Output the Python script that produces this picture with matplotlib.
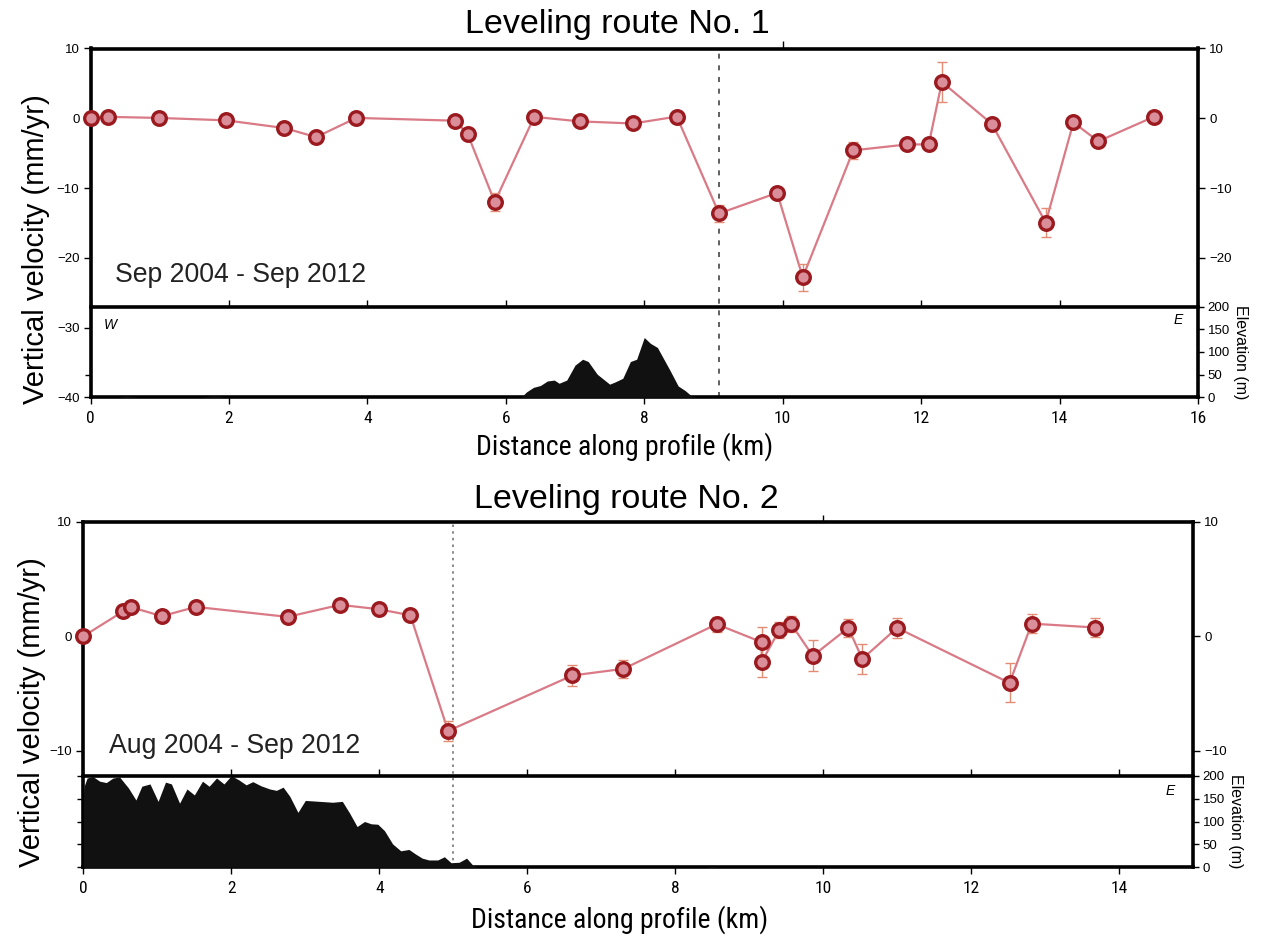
import matplotlib
matplotlib.use("Agg")
import matplotlib.pyplot as plt
from matplotlib import font_manager as fm


def pick(*names):
    avail = {f.name for f in fm.fontManager.ttflist}
    for n in names:
        if n in avail:
            return n
    return "DejaVu Sans"


SANS = pick("Liberation Sans", "Arial", "DejaVu Sans")
NARROW = pick("Liberation Sans Narrow", "Roboto Condensed", SANS)

# ---------------- Route 1 ----------------
r1_km = [0, 0.25, 0.985, 1.96, 2.80, 3.26, 3.84, 5.27, 5.45, 5.84, 6.41, 7.07,
         7.84, 8.47, 9.08, 9.92, 10.29, 11.02, 11.80, 12.11, 12.30, 13.02,
         13.80, 14.20, 14.56, 15.36]
r1_vel = [0, 0.2, 0.05, -0.3, -1.4, -2.7, 0.05, -0.35, -2.3, -12.0, 0.2, -0.45,
          -0.75, 0.24, -13.65, -10.7, -22.8, -4.6, -3.75, -3.75, 5.2, -0.8,
          -14.95, -0.6, -3.3, 0.2]
r1_err = [0, 0.3, 0.3, 0.3, 0.3, 0.3, 0.3, 0.3, 0.3, 1.3, 0.3, 0.3,
          0.3, 0.3, 1.2, 0.3, 1.9, 1.2, 0.3, 0.3, 2.8, 0.3,
          2.1, 0.3, 0.3, 0.3]

r1_elev_km = [0, 0.4, 0.5, 0.6, 0.7, 1.6, 1.75, 1.85, 1.95, 6.22, 6.30, 6.40,
              6.50, 6.60, 6.70, 6.77, 6.88, 7.00, 7.11, 7.19, 7.32, 7.50, 7.58,
              7.69, 7.80, 7.89, 8.00, 8.09, 8.19, 8.37, 8.49, 8.59, 8.69, 8.75, 16]
r1_elev_m = [0, 0, 3, 2, 0, 0, 3, 3, 0, 0, 12, 22,
             26, 36, 38, 31, 38, 71, 84, 79, 51, 29, 34,
             42, 79, 84, 132, 119, 110, 60, 25, 15, 2, 0, 0]
r1_fault_km = 9.08
r1_period = "Sep 2004 - Sep 2012"
r1_title = "Leveling route No. 1"

# ---------------- Route 2 ----------------
r2_km = [0, 0.54, 0.65, 1.06, 1.52, 2.76, 3.47, 3.99, 4.42, 4.93, 6.61, 7.30,
         8.56, 9.17, 9.17, 9.41, 9.57, 9.86, 10.34, 10.53, 11.00, 12.52, 12.82, 13.68]
r2_vel = [0, 2.18, 2.53, 1.75, 2.56, 1.69, 2.74, 2.36, 1.83, -8.27, -3.43, -2.85,
          1.05, -0.52, -2.24, 0.58, 1.05, -1.72, 0.73, -1.98, 0.73, -4.08, 1.1, 0.76]
r2_err = [0, 0.2, 0.2, 0.2, 0.2, 0.2, 0.2, 0.2, 0.2, 0.85, 0.95, 0.8,
          0.65, 1.3, 1.3, 0.7, 0.7, 1.35, 0.8, 1.3, 0.85, 1.7, 0.8, 0.85]

r2_elev_km = [0, 0.01, 0.05, 0.13, 0.22, 0.31, 0.40, 0.49, 0.61, 0.71, 0.79, 0.90,
              1.01, 1.11, 1.19, 1.30, 1.40, 1.50, 1.61, 1.70, 1.80, 1.90, 2.00,
              2.10, 2.20, 2.29, 2.40, 2.52, 2.61, 2.70, 2.79, 2.90, 3.00, 3.19,
              3.37, 3.50, 3.60, 3.70, 3.80, 3.89, 3.98, 4.07, 4.18, 4.29, 4.40,
              4.49, 4.58, 4.67, 4.79, 4.88, 4.97, 5.08, 5.18, 5.27, 5.33, 8.4,
              8.5, 8.6, 15]
r2_elev_m = [160, 177, 195, 198, 188, 185, 195, 197, 173, 147, 177, 182,
             144, 186, 182, 140, 171, 158, 188, 177, 195, 182, 200,
             191, 180, 187, 178, 171, 168, 175, 155, 120, 146, 144,
             142, 144, 118, 89, 100, 95, 94, 80, 51, 36, 39,
             29, 20, 16, 16, 23, 10, 11, 20, 3.5, 0, 0,
             2, 0, 0]
r2_fault_km = 5.0
r2_period = "Aug 2004 - Sep 2012"
r2_title = "Leveling route No. 2"

# ---------------- styling ----------------
LINE_C = "#d97a86"
FACE_C = "#d98e99"
EDGE_C = "#9b1a1f"
ERR_C = "#e38c74"
SPINE_W = 2.6

W, H = 1264, 939
fig = plt.figure(figsize=(W / 100, H / 100), dpi=100)


def px_rect(left, right, top, bottom):
    return [left / W, 1 - bottom / H, (right - left) / W, (bottom - top) / H]


def route_panel(left, right, top, divider, bottom, xmax, ylo, vel_left_ticks,
                vel_right_ticks, km, vel, err, ekm, em, fault, fault_dash,
                fault_color, period, period_xy, elev_left_ticks, w_label, e_xy):
    ax = fig.add_axes(px_rect(left, right, top, bottom))
    ax.set_xlim(0, xmax)
    ax.set_ylim(ylo, 10)
    ax.axvline(fault, color=fault_color, lw=1.2, dashes=fault_dash, zorder=1)
    ax.plot(km, vel, color=LINE_C, lw=1.6, zorder=2)
    ax.errorbar(km, vel, yerr=err, fmt="none", ecolor=ERR_C, elinewidth=1.0,
                capsize=3.5, capthick=1.0, zorder=3)
    ax.plot(km, vel, "o", ms=9.8, mfc=FACE_C, mec=EDGE_C, mew=2.4, zorder=4,
            clip_on=False)
    ax.text(period_xy[0], period_xy[1], period, fontsize=19.2, family=SANS,
            va="baseline", ha="left", color="#222222")
    for s in ax.spines.values():
        s.set_linewidth(SPINE_W)
    ax.set_xticks(range(0, int(xmax) + 1, 2))
    ax.set_yticks(vel_left_ticks)
    ax.tick_params(axis="x", direction="out", length=5, width=1, pad=5,
                   labelsize=12.5)
    ax.tick_params(axis="y", direction="out", length=5, width=1, pad=3,
                   labelsize=9.5)
    for t in ax.get_xticklabels():
        t.set_family(NARROW)
    for t in ax.get_yticklabels():
        t.set_family(SANS)
    top_ax = ax.secondary_xaxis("top")
    top_ax.set_xticks([10])
    top_ax.tick_params(direction="out", length=5, width=1, labeltop=False)
    top_ax.spines["top"].set_visible(False)

    axr = ax.twinx()
    axr.set_ylim(ylo, 10)
    axr.set_yticks(vel_right_ticks)
    axr.tick_params(axis="y", direction="out", length=5, width=1, pad=3,
                    labelsize=9.5)
    for t in axr.get_yticklabels():
        t.set_family(SANS)
    for s in axr.spines.values():
        s.set_visible(False)

    # elevation strip: filled profile with unlabeled left ticks
    axe = fig.add_axes(px_rect(left, right, divider, bottom))
    axe.patch.set_alpha(0)
    axe.set_xlim(0, xmax)
    axe.set_ylim(0, 200)
    axe.fill_between(ekm, 0, em, color="#111111", lw=0, zorder=2)
    for k, s in axe.spines.items():
        s.set_visible(k == "top")
    axe.spines["top"].set_linewidth(SPINE_W)
    axe.set_xticks(range(0, int(xmax) + 1, 2))
    axe.tick_params(axis="x", bottom=False, top=True, labelbottom=False,
                    direction="out", length=5, width=1)
    axe.set_yticks(elev_left_ticks)
    axe.tick_params(axis="y", left=True, right=False, labelleft=False,
                    direction="out", length=4, width=1)
    if w_label is not None:
        axe.text(w_label[0], w_label[1], "W", style="italic", fontsize=10,
                 family=SANS, ha="center", va="center")
    axe.text(e_xy[0], e_xy[1], "E", style="italic", fontsize=10, family=SANS,
             ha="center", va="center")

    # elevation scale on the right
    aer = axe.twinx()
    aer.set_ylim(0, 200)
    aer.set_yticks([0, 50, 100, 150, 200])
    aer.tick_params(axis="y", direction="out", length=4, width=1, pad=3,
                    labelsize=9.5)
    for t in aer.get_yticklabels():
        t.set_family(SANS)
    for s in aer.spines.values():
        s.set_visible(False)
    aer.set_ylabel("Elevation (m)", rotation=270, fontsize=11.5, family=SANS,
                   labelpad=13)
    return ax


route_panel(90.5, 1198, 48.5, 306.7, 397.3, 16, -40,
            [-40, -30, -20, -10, 0, 10], [-20, -10, 0, 10],
            r1_km, r1_vel, r1_err, r1_elev_km, r1_elev_m,
            r1_fault_km, (3, 4), "#444444", r1_period, (0.35, -23.5),
            [50], (0.28, 160), (15.72, 170))

route_panel(83.4, 1193, 521.7, 775.7, 867.3, 15, -20.18,
            [-10, 0, 10], [-10, 0, 10],
            r2_km, r2_vel, r2_err, r2_elev_km, r2_elev_m,
            r2_fault_km, (1.5, 2.5), "#777777", r2_period, (0.35, -10.2),
            [0, 50, 100, 150, 200], None, (14.69, 167))

# titles and shared labels
fig.text(617 / W, 1 - 32.7 / H, r1_title, fontsize=24.5, family=SANS,
         ha="center", va="baseline")
fig.text(626 / W, 1 - 508 / H, r2_title, fontsize=24.5, family=SANS,
         ha="center", va="baseline")
fig.text(36 / W, 1 - 249 / H, "Vertical velocity (mm/yr)", fontsize=21,
         family=SANS, rotation=90, ha="center", va="center")
fig.text(32 / W, 1 - 712 / H, "Vertical velocity (mm/yr)", fontsize=21,
         family=SANS, rotation=90, ha="center", va="center")
fig.text(625 / W, 1 - 447 / H, "Distance along profile (km)", fontsize=20,
         family=NARROW, ha="center", va="center")
fig.text(620 / W, 1 - 920 / H, "Distance along profile (km)", fontsize=20,
         family=NARROW, ha="center", va="center")

fig.savefig("out.png", dpi=100)
